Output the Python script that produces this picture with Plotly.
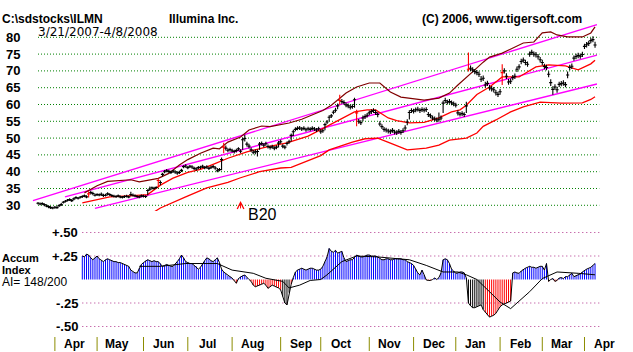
import plotly.graph_objects as go

FONT = "Liberation Sans, Arial, Helvetica, sans-serif"
W, H = 633, 352
X0_PX, PX_PER_BAR = 38.0, 2.11   # horizontal layout of the bar index

# ---------------- price data (daily bars, 3/21/2007 - 4/8/2008) ----------------
CLOSE = [
    30.6, 30.4, 30.5, 30.2, 29.8, 29.6, 29.3, 29.2, 29.4, 29.3,
    29.9, 30.2, 30.9, 31.2, 31.5, 31.7, 31.4, 31.9, 32.3, 32.1,
    32.4, 32.6, 32.8, 32.5, 33.4, 33.8, 33.5, 33.0, 33.2, 33.1,
    33.3, 32.9, 33.0, 33.4, 33.2, 32.9, 32.7, 32.6, 32.8, 32.5,
    32.4, 32.6, 32.7, 32.5, 33.2, 33.0, 32.8, 32.6, 32.5, 32.8,
    32.7, 32.6, 34.4, 34.8, 35.2, 35.0, 35.3, 37.4, 36.8, 39.2,
    40.0, 40.3, 40.1, 39.8, 40.2, 39.9, 39.6, 39.8, 40.4, 41.5,
    41.7, 41.2, 41.6, 41.4, 41.0, 40.8, 41.2, 41.3, 41.6, 41.2,
    41.4, 41.0, 41.3, 41.5, 41.1, 40.3, 40.6, 43.6, 47.3, 47.0,
    46.4, 46.6, 46.2, 46.0, 46.3, 46.8, 46.1, 49.5, 49.9, 48.2,
    47.6, 46.5, 45.8, 45.9, 46.0, 48.2, 48.4, 47.9, 48.3, 47.5,
    47.2, 47.4, 47.0, 47.3, 48.5, 48.9, 47.6, 47.3, 48.4, 48.9,
    50.8, 51.9, 52.6, 52.9, 53.0, 52.7, 52.9, 52.5, 52.8, 52.6,
    52.9, 52.7, 52.4, 52.8, 51.9, 52.2, 54.0, 54.8, 56.2, 56.6,
    57.7, 58.3, 59.6, 61.2, 60.9, 60.6, 59.9, 59.6, 59.2, 59.4,
    61.4, 57.5, 55.0, 54.6, 56.0, 56.4, 56.8, 57.5, 57.9, 58.2,
    57.6, 57.0, 54.2, 53.4, 52.6, 52.4, 52.1, 51.9, 52.3, 51.8,
    51.6, 52.0, 51.7, 52.2, 53.0, 54.8, 57.6, 58.2, 58.0, 58.4,
    58.6, 58.2, 58.5, 58.3, 58.5, 57.0, 56.6, 56.0, 55.7, 55.4,
    55.6, 56.0, 60.4, 61.2, 60.7, 60.9, 60.5, 60.2, 59.8, 57.5,
    57.1, 57.3, 57.0, 59.6, 70.5, 70.8, 70.3, 69.8, 69.5, 69.0,
    67.5, 67.8, 65.8, 66.3, 65.0, 64.7, 64.4, 63.5, 63.0, 63.8,
    69.5, 70.0, 68.4, 66.7, 66.9, 68.0, 68.4, 70.5, 71.2, 72.8,
    73.2, 72.5, 72.0, 75.0, 75.5, 75.0, 74.8, 74.2, 73.3, 72.5,
    71.3, 71.0, 69.0, 66.5, 64.5, 65.2, 64.4, 66.0, 66.2, 66.4,
    65.9, 68.8, 71.0, 71.4, 73.8, 74.3, 74.6, 74.4, 74.9, 77.3,
    77.8, 78.2, 79.0, 79.3, 77.7,
]
HIGH = [
    31.0, 30.8, 30.9, 30.6, 30.3, 30.0, 29.8, 29.6, 29.8, 29.8,
    30.3, 30.7, 31.3, 31.6, 31.9, 32.1, 31.9, 32.3, 32.7, 32.5,
    32.8, 33.0, 33.2, 33.0, 34.2, 34.3, 34.0, 33.5, 33.6, 33.5,
    33.8, 33.4, 33.4, 33.9, 33.6, 33.3, 33.1, 33.0, 33.2, 32.9,
    32.8, 33.0, 33.1, 32.9, 34.0, 33.5, 33.2, 33.0, 32.9, 33.2,
    33.1, 33.0, 34.8, 35.6, 35.6, 35.5, 35.7, 38.0, 37.4, 39.7,
    40.5, 40.8, 40.6, 40.3, 40.6, 40.4, 40.1, 40.3, 40.9, 41.9,
    42.2, 41.7, 42.0, 41.9, 41.5, 41.3, 41.7, 41.8, 42.1, 41.7,
    41.9, 41.5, 41.8, 42.0, 41.6, 41.1, 41.1, 44.2, 48.6, 47.8,
    47.0, 47.1, 46.8, 46.5, 46.8, 47.3, 46.7, 50.2, 51.0, 48.9,
    48.3, 47.2, 46.5, 46.6, 46.6, 48.8, 49.0, 48.5, 48.9, 48.1,
    47.8, 48.0, 47.6, 47.9, 49.1, 49.5, 48.2, 47.9, 49.0, 49.5,
    51.4, 52.5, 53.2, 53.5, 53.6, 53.3, 53.5, 53.1, 53.4, 53.2,
    53.5, 53.3, 53.0, 53.4, 52.6, 52.8, 54.6, 55.4, 56.8, 57.2,
    58.3, 59.0, 60.3, 62.9, 61.6, 61.3, 60.6, 60.3, 59.9, 60.1,
    62.0, 58.4, 55.7, 55.3, 56.7, 57.1, 57.5, 58.2, 58.6, 58.9,
    58.4, 57.7, 55.0, 54.1, 53.3, 53.1, 52.8, 52.6, 53.0, 52.5,
    52.3, 52.7, 52.4, 52.9, 53.8, 55.6, 58.3, 58.9, 58.7, 59.1,
    59.3, 58.9, 59.2, 59.0, 59.2, 57.8, 57.3, 56.7, 56.4, 56.1,
    57.6, 56.7, 61.1, 62.0, 61.4, 61.6, 61.2, 60.9, 60.5, 58.3,
    57.8, 58.0, 57.7, 60.8, 75.5, 71.6, 71.1, 70.6, 70.3, 69.8,
    68.5, 68.6, 66.8, 67.1, 65.8, 65.5, 65.2, 64.3, 63.8, 64.6,
    72.0, 70.8, 69.3, 67.6, 67.7, 68.8, 69.2, 71.3, 72.0, 73.6,
    74.0, 73.3, 72.8, 75.8, 76.3, 75.8, 75.6, 75.0, 74.1, 73.3,
    72.1, 71.8, 69.9, 67.5, 65.4, 66.0, 65.3, 66.8, 67.0, 67.2,
    66.7, 69.8, 71.8, 72.2, 74.6, 75.1, 75.4, 75.2, 75.7, 78.1,
    78.6, 79.0, 79.8, 80.3, 78.7,
]
LOW = [
    30.2, 30.0, 30.1, 29.7, 29.4, 29.1, 28.9, 28.8, 29.0, 29.0,
    29.5, 29.8, 30.5, 30.8, 31.1, 31.3, 31.0, 31.5, 31.9, 31.7,
    32.0, 32.2, 32.4, 32.1, 32.3, 33.2, 33.0, 32.6, 32.8, 32.7,
    32.8, 32.5, 32.6, 32.9, 32.8, 32.5, 32.3, 32.2, 32.4, 32.1,
    32.0, 32.2, 32.3, 32.1, 32.7, 32.6, 32.4, 32.2, 32.1, 32.4,
    32.3, 32.2, 33.0, 34.3, 34.7, 34.6, 34.9, 35.3, 36.0, 38.6,
    39.5, 39.8, 39.6, 39.3, 39.7, 39.4, 39.1, 39.3, 39.9, 41.0,
    41.2, 40.7, 41.1, 40.9, 40.5, 40.3, 40.7, 40.8, 41.1, 40.7,
    40.9, 40.5, 40.8, 41.0, 40.6, 39.8, 40.1, 40.4, 45.5, 46.3,
    45.8, 46.0, 45.7, 45.4, 45.7, 46.2, 45.5, 46.5, 49.0, 47.5,
    46.9, 45.9, 45.2, 45.2, 44.5, 46.5, 47.8, 47.3, 47.7, 46.9,
    46.6, 46.8, 46.4, 46.7, 47.2, 48.3, 47.0, 46.7, 47.8, 48.3,
    49.0, 50.6, 52.0, 52.3, 52.4, 52.1, 52.3, 51.9, 52.2, 52.0,
    52.3, 52.1, 51.8, 52.2, 51.3, 51.6, 52.3, 54.2, 55.0, 56.0,
    57.1, 57.6, 58.6, 59.9, 60.2, 59.9, 59.2, 58.9, 58.5, 58.7,
    59.0, 53.5, 54.3, 53.9, 55.0, 55.7, 56.1, 56.8, 57.2, 57.5,
    56.9, 56.2, 53.5, 52.7, 51.9, 51.7, 51.4, 51.2, 51.6, 51.1,
    50.9, 51.3, 51.0, 51.5, 52.2, 53.8, 55.5, 57.5, 57.3, 57.7,
    57.9, 57.5, 57.8, 57.6, 57.8, 56.3, 55.9, 55.3, 55.0, 54.7,
    54.9, 55.3, 57.5, 60.4, 60.0, 60.2, 59.8, 59.5, 59.1, 56.7,
    56.4, 56.6, 56.3, 57.5, 69.8, 70.0, 69.5, 69.0, 68.7, 68.2,
    66.7, 67.0, 65.0, 65.5, 64.2, 63.9, 63.6, 62.7, 62.2, 62.9,
    65.8, 69.2, 67.6, 65.9, 66.1, 67.2, 67.6, 69.7, 70.4, 72.0,
    72.4, 71.7, 71.2, 74.2, 74.7, 74.2, 74.0, 73.4, 72.5, 71.7,
    70.5, 70.2, 68.1, 65.5, 62.9, 64.4, 63.5, 65.2, 65.4, 65.6,
    65.1, 67.8, 70.2, 70.6, 73.0, 73.5, 73.8, 73.6, 74.1, 76.5,
    77.0, 77.4, 78.2, 78.5, 76.9,
]
SIGNAL_BARS = [24, 57, 88, 143, 151, 204, 220]

# upper band (dark red), moving average (red), lower band (red): (bar index, price)
UPPER_X = [22, 28, 33, 44, 48, 57, 62, 67, 71, 77, 83, 86, 90, 96, 100, 106, 110, 115, 119,
           125, 130, 135, 139, 142, 146, 151, 157, 162, 167, 172, 176, 183, 190, 195, 199,
           203, 207, 211, 214, 220, 225, 230, 235, 239, 243, 246, 251, 258, 262, 264]
UPPER_Y = [33.7, 35.8, 37.1, 37.6, 37.0, 38.0, 39.5, 42.0, 43.6, 45.5, 47.0, 46.8, 48.8, 50.3,
           52.4, 53.6, 53.4, 54.0, 54.5, 55.6, 56.9, 58.2, 59.8, 61.3, 63.4, 65.2, 66.4, 66.4,
           63.7, 62.2, 61.9, 61.3, 61.9, 63.4, 65.8, 68.2, 70.3, 72.6, 74.1, 75.3, 76.8, 78.3,
           78.6, 81.3, 81.6, 80.7, 80.1, 80.1, 81.3, 83.1]
MA_X = [21, 34, 45, 52, 58, 64, 71, 77, 83, 90, 99, 108, 118, 128, 134, 139, 145, 150, 156,
        160, 166, 170, 176, 183, 190, 196, 200, 203, 208, 214, 220, 228, 236, 242, 250, 256,
        262, 264]
MA_Y = [30.7, 32.5, 32.9, 33.2, 36.0, 38.1, 39.8, 40.7, 42.2, 44.0, 45.9, 47.3, 48.6, 50.6,
        52.5, 54.2, 56.3, 57.8, 58.4, 58.4, 56.0, 55.2, 54.5, 54.7, 56.0, 57.8, 58.4, 59.8,
        63.0, 65.2, 68.2, 68.2, 71.2, 71.8, 71.5, 70.3, 72.1, 73.2]
LOWER_X = [54, 58, 70, 80, 90, 96, 105, 115, 120, 129, 134, 138, 149, 155, 161, 167, 175,
           184, 190, 195, 203, 208, 211, 217, 224, 230, 238, 248, 258, 262, 264]
LOWER_Y = [27.6, 29.2, 32.5, 35.2, 36.8, 38.2, 40.0, 41.1, 41.3, 43.5, 44.8, 46.5, 48.8, 49.8,
           50.0, 48.5, 46.5, 47.0, 47.9, 49.4, 50.0, 51.5, 53.5, 55.4, 57.8, 59.3, 60.7, 60.4,
           60.5, 61.5, 62.3]

# trend channel lines (magenta)
CHAN_A_X, CHAN_A_Y = [-2.4, 264.9], [31.4, 83.8]
CHAN_B_X, CHAN_B_Y = [12.8, 264.9], [32.5, 74.7]
CHAN_C_X, CHAN_C_Y = [27.0, 264.9], [29.1, 66.1]

# ---------------- accumulation index ----------------
AI_START = 21
AI = [
    .25, .24, .27, .26, .23, .21, .23, .25, .22, .20,
    .19, .21, .22, .21, .20, .19, .19, .18, .18, .17,
    .16, .15, .14, .10, .08, .07, .07, .12, .16, .18,
    .20, .21, .20, .19, .20, .19, .19, .17, .14, .15,
    .16, .15, .14, .14, .16, .19, .22, .26, .23, .19,
    .18, .17, .17, .15, .14, .11, .13, .17, .20, .23,
    .22, .20, .19, .21, .23, .18, .11, .08, .06, .04,
    .03, .015, -.01, -.04, .01, .03, .04, .048, .02, .00,
    -.02, -.06, -.077, -.07, -.06, -.05, -.04, -.06, -.094, -.08,
    -.06, -.07, -.077, -.09, -.11, -.18, -.25, -.27, -.14, -.05,
    .02, .08, .10, .11, .12, .11, .10, .11, .12, .12,
    .11, .10, .10, .11, .14, .19, .24, .33, .30, .29,
    .31, .28, .29, .30, .23, .19, .20, .21, .21, .23,
    .26, .25, .24, .24, .25, .26, .26, .25, .25, .25,
    .24, .22, .21, .21, .22, .22, .21, .21, .22, .22,
    .22, .22, .21, .21, .19, .18, .17, .15, .11, .07,
    .048, .10, .05, -.005, -.01, -.01, .00, .016, .00, .02,
    .07, .21, .22, .21, .17, .11, .09, .066, .07, .08,
    .08, .07, .016, -.25, -.28, -.30, -.30, -.29, -.28, -.27,
    -.32, -.35, -.38, -.40, -.39, -.38, -.36, -.32, -.29, -.27,
    -.26, -.25, -.24, -.23, .07, .08, .07, .066, .09, .11,
    .12, .13, .14, .13, .13, .12, .13, .14, .14, .10,
    .17, -.02, .00, .01, -.02, -.01, .016, .02, .01, .03,
    .03, .05, .066, .03, .04, .05, .06, .08, .10, .11,
    .12, .13, .15, .17,
]
AI_DARK = [116, 117, 118, 119, 204, 205, 206, 207, 208, 209, 210, 211]
AI_MA_X = [48, 58, 70, 85, 92, 102, 108, 116, 119, 124, 129, 134, 137, 144, 151, 161, 176,
           184, 192, 199, 203, 208, 214, 219, 224, 227, 233, 239, 246, 256, 264]
AI_MA_Y = [.14, .14, .17, .17, .10, .066, .013, -.02, -.09, -.06, -.01, .00, .05, .19, .25,
           .24, .21, .15, .08, .08, .05, .00, -.13, -.24, -.31, -.25, -.13, .01, .08, .066, .05]

MONTH_TICKS = [8, 28, 50, 71, 92, 115, 134, 157, 178, 198, 219, 239, 259]
MONTH_LABELS = ["Apr", "May", "Jun", "Jul", "Aug", "Sep", "Oct", "Nov", "Dec", "Jan", "Feb", "Mar", "Apr"]
PRICE_TICKS = [80, 75, 70, 65, 60, 55, 50, 45, 40, 35, 30]
AI_TICKS = [0.5, 0.25, -0.25, -0.5]
AI_TICK_LABELS = ["+.50", "+.25", "-.25", "-.50"]

assert len(CLOSE) == len(HIGH) == len(LOW)
N = len(CLOSE)
assert len(AI) == N - AI_START

fig = go.Figure()


def line(xs, ys, color, width=1.2, yaxis="y"):
    fig.add_trace(go.Scatter(x=xs, y=ys, mode="lines", yaxis=yaxis, hoverinfo="skip",
                             line=dict(color=color, width=width)))


# channel + bands
for cx, cy in [(CHAN_A_X, CHAN_A_Y), (CHAN_B_X, CHAN_B_Y), (CHAN_C_X, CHAN_C_Y)]:
    line(cx, cy, "#ff00ff", 1.3)
line(UPPER_X, UPPER_Y, "#800000", 1.2)
line(MA_X, MA_Y, "#ff0000", 1.3)
line(LOWER_X, LOWER_Y, "#ff0000", 1.3)

# price bars
segs = {"k": ([], []), "r": ([], [])}
for i in range(N):
    key = "r" if i in SIGNAL_BARS else "k"
    xs, ys = segs[key]
    xs += [i, i, None, i - 0.75, i + 0.75, None]
    ys += [LOW[i], HIGH[i], None, CLOSE[i], CLOSE[i], None]
line(segs["k"][0], segs["k"][1], "#000000", 1.1)
line(segs["r"][0], segs["r"][1], "#ff0000", 1.1)

# accumulation index histogram
hist = {"#0000ff": ([], []), "#ff0000": ([], []), "#000000": ([], [])}
for k, v in enumerate(AI):
    i = AI_START + k
    if v >= 0:
        c = "#0000ff"
    elif i in AI_DARK:
        c = "#000000"
    else:
        c = "#ff0000"
    hist[c][0].extend([i, i, None])
    hist[c][1].extend([0, v, None])
for c, (xs, ys) in hist.items():
    line(xs, ys, c, 1, "y2")
line(list(range(AI_START, N)), AI, "#000000", 1, "y2")
line(AI_MA_X, AI_MA_Y, "#000000", 1, "y2")

# gridlines
shapes = []
for p in PRICE_TICKS:
    shapes.append(dict(type="line", xref="x", yref="y", x0=0, x1=266, y0=p, y1=p, layer="below",
                       line=dict(color="#008000", width=1, dash="1px,2px")))
for v in AI_TICKS:
    shapes.append(dict(type="line", xref="x", yref="y2", x0=21, x1=266, y0=v, y1=v, layer="below",
                       line=dict(color="#b0308a", width=1, dash="1px,3px")))
for t in MONTH_TICKS:
    shapes.append(dict(type="line", xref="x", yref="paper", x0=t, x1=t, y0=1 - 351 / H, y1=1 - 337 / H,
                       line=dict(color="#8c8c00", width=1)))


def ann(text, px, py, size=12, xanchor="left", bold=True, color="#000000", family=FONT):
    return dict(text=("<b>%s</b>" % text) if bold else text, x=px / W, y=1 - py / H,
                xref="paper", yref="paper", xanchor=xanchor, yanchor="middle", showarrow=False,
                borderpad=0, font=dict(family=family, size=size, color=color))


annotations = [
    ann(r"C:\sdstocks\ILMN", 1, 18.5),
    ann("3/21/2007-4/8/2008", 37, 32.5, size=12, bold=False, family="DejaVu Sans, sans-serif"),
    ann("Illumina Inc.", 168, 18.5),
    ann("(C) 2006, www.tigersoft.com", 421, 18.5),
    ann("Accum", 1, 257.5, size=11),
    ann("Index", 1, 269.5, size=11),
    ann("AI= 148/200", 1, 282, size=12, bold=False),
    ann("B20", 247, 214, size=16, bold=False),
]
for p in PRICE_TICKS:
    annotations.append(dict(text="<b>%d</b>" % p, x=21 / W, y=p, xref="paper", yref="y",
                            xanchor="right", yanchor="middle", showarrow=False, borderpad=0,
                            font=dict(family=FONT, size=13, color="#000000")))
for v, lab in zip(AI_TICKS, AI_TICK_LABELS):
    annotations.append(dict(text="<b>%s</b>" % lab, x=79 / W, y=v, xref="paper", yref="y2",
                            xanchor="right", yanchor="middle", showarrow=False, borderpad=0,
                            font=dict(family=FONT, size=13, color="#000000")))
for t, lab in zip(MONTH_TICKS, MONTH_LABELS):
    annotations.append(dict(text="<b>%s</b>" % lab, x=t + 9.5, y=1 - 344.3 / H, xref="x", yref="paper",
                            xanchor="center", yanchor="middle", showarrow=False, borderpad=0,
                            font=dict(family=FONT, size=12, color="#000000")))
# B20 arrow
annotations.append(dict(text="", x=96, y=31.3, xref="x", yref="y", ax=0, ay=9, showarrow=True,
                        arrowhead=5, arrowsize=1.3, arrowwidth=1, arrowcolor="#ff0000"))

x_lo = -X0_PX / PX_PER_BAR
x_hi = (W - X0_PX) / PX_PER_BAR
fig.update_layout(
    width=W, height=H, margin=dict(l=0, r=0, t=0, b=0),
    paper_bgcolor="white", plot_bgcolor="white", showlegend=False,
    xaxis=dict(range=[x_lo, x_hi], domain=[0, 1], visible=False, fixedrange=True),
    yaxis=dict(range=[28.3, 84], domain=[1 - 211.0 / H, 1 - 23.86 / H], visible=False),
    yaxis2=dict(range=[-0.55, 0.55], domain=[1 - 331.2 / H, 1 - 227.8 / H], visible=False,
                anchor="x"),
    shapes=shapes, annotations=annotations,
)
fig.write_html("out.html", include_plotlyjs=True, config={"displayModeBar": False})
